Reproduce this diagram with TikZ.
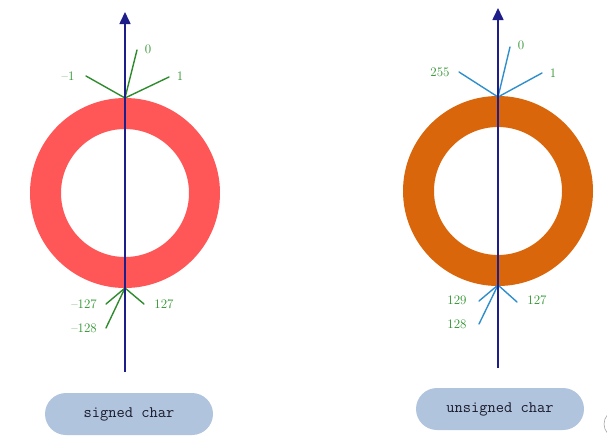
\documentclass[tikz,border=0pt]{standalone}
\usepackage{amsmath, amssymb}
\usepackage{tikz}
\usetikzlibrary{calc, arrows.meta}
\usepackage{tkz-euclide}

\definecolor{axisblue}{HTML}{1E1E8A}
\definecolor{ringred}{HTML}{FF5757}
\definecolor{ringorange}{HTML}{D9660A}
\definecolor{tickgreen}{HTML}{2E8B2E}
\definecolor{tickblue}{HTML}{2F8FCC}
\definecolor{numgreen}{HTML}{2F942F}
\definecolor{pillblue}{HTML}{B0C4DE}
\definecolor{pilltext}{HTML}{1A1A2A}

\begin{document}
\begin{tikzpicture}[x=1pt, y=-1pt,
    axis/.style={axisblue, line width=1.6pt, -{Triangle[length=12pt, width=11pt]}},
    num/.style={numgreen, font=\fontsize{13}{15}\selectfont, inner sep=0pt},
    pill/.style={fill=pillblue, rounded corners=21pt, minimum width=168pt,
      minimum height=42pt, text=pilltext, font=\fontsize{16}{19}\selectfont\ttfamily}]
      \useasboundingbox (0,0) rectangle (607,445);

      % 1. 兩個圓環 (signed / unsigned)
      \fill[ringred, even odd rule] (125,193) circle[radius=95] circle[radius=64];
      \fill[ringorange, even odd rule] (498,191) circle[radius=95] circle[radius=64];

      % 2. 定義左邊的點
      \tkzDefPoint(125,98){T_1}
      \tkzDefPoint(125,288){B_1}
      \tkzDefPoint(125,372){S_1}
      \tkzDefPoint(125,12){E_1}
      \tkzDefPoint(137,50){Z_1}
      \tkzDefPoint(169,77){P_1}
      \tkzDefPoint(86,76){M_1}
      \tkzDefPoint(144,304){X_1}
      \tkzDefPoint(106,304){Y_1}
      \tkzDefPoint(106,328){W_1}

      % 3. 定義右邊的點
      \tkzDefPoint(498,97){T_2}
      \tkzDefPoint(498,285){B_2}
      \tkzDefPoint(498,368){S_2}
      \tkzDefPoint(498,8){E_2}
      \tkzDefPoint(510,47){Z_2}
      \tkzDefPoint(542,73){P_2}
      \tkzDefPoint(459,72){M_2}
      \tkzDefPoint(517,302){X_2}
      \tkzDefPoint(479,301){Y_2}
      \tkzDefPoint(479,324){W_2}

      % 4. 刻度線
      \tkzDrawSegments[tickgreen, line width=1.4pt](T_1,Z_1 T_1,P_1 T_1,M_1 B_1,X_1 B_1,Y_1 B_1,W_1)
      \tkzDrawSegments[tickblue, line width=1.4pt](T_2,Z_2 T_2,P_2 T_2,M_2 B_2,X_2 B_2,Y_2 B_2,W_2)

      % 5. 中間的軸
      \draw[axis] (S_1) -- (E_1);
      \draw[axis] (S_2) -- (E_2);

      % 6. 數字
      \node[num] (n0) at (148,49) {0};
      \node[num] (n1) at (180,76) {1};
      \node[num] (nm1) at (68,76) {--1};
      \node[num] (n127) at (164,304) {127};
      \node[num] (nm127) at (84,304) {--127};
      \node[num] (nm128) at (84,328) {--128};

      \node[num] (u0) at (521,45) {0};
      \node[num] (u1) at (553,73) {1};
      \node[num] (u255) at (440,72) {255};
      \node[num] (u127) at (537,300) {127};
      \node[num] (u129) at (457,300) {129};
      \node[num] (u128) at (457,324) {128};

      % 7. 標籤
      \node[pill] (signed) at (129,414) {signed char};
      \node[pill] (unsigned) at (500,409) {unsigned char};

      % 右下角的小弧
      \draw[black!35, line width=0.6pt] (607.3,415) arc[start angle=220, end angle=140, radius=14];
\end{tikzpicture}
\end{document}
